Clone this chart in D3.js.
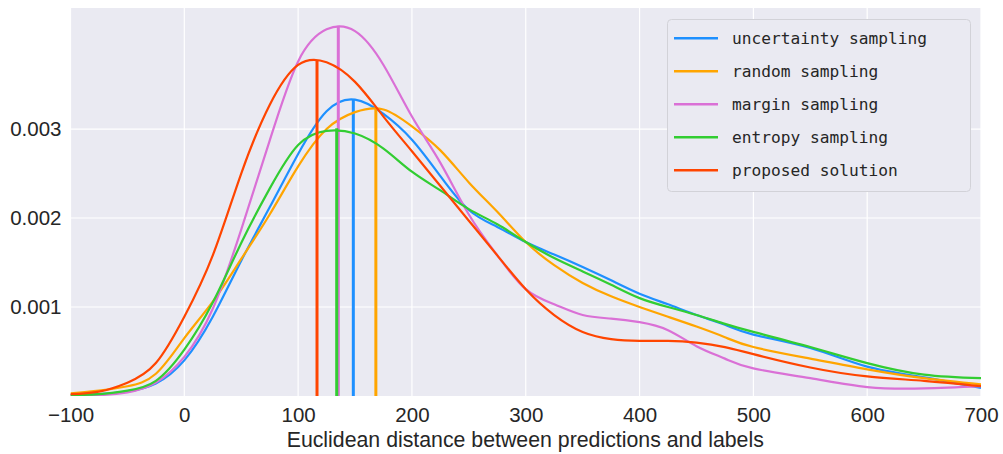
<!DOCTYPE html>
<html>
<head>
<meta charset="utf-8">
<script src="https://cdn.jsdelivr.net/npm/d3@7"></script>
<style>
  html, body { margin: 0; padding: 0; background: #ffffff; }
  svg { display: block; }
</style>
</head>
<body>
<div id="chart"></div>
<script>
// ---- data (densities in units of 1e-3) ----
const xGrid = [-100,-75,-50,-25,0,25,50,75,100,125,150,175,200,225,250,275,300,325,350,375,400,425,450,475,500,550,600,650,700];

const uncertaintySampling = [0.01,0.02,0.05,0.14,0.40,0.89,1.52,2.12,2.72,3.20,3.33,3.17,2.88,2.47,2.09,1.90,1.73,1.59,1.45,1.30,1.15,1.03,0.91,0.80,0.69,0.54,0.33,0.21,0.09];
const randomSampling      = [0.03,0.06,0.11,0.25,0.65,1.06,1.54,2.04,2.58,3.00,3.19,3.22,3.03,2.76,2.40,2.07,1.73,1.47,1.27,1.12,1.00,0.89,0.78,0.66,0.55,0.42,0.30,0.20,0.13];
const marginSampling      = [0.005,0.01,0.04,0.15,0.44,0.98,1.87,2.87,3.76,4.12,4.10,3.72,3.14,2.62,2.04,1.58,1.20,1.03,0.91,0.87,0.83,0.74,0.56,0.42,0.31,0.20,0.10,0.085,0.11];
const entropySampling     = [0.01,0.02,0.06,0.17,0.52,1.05,1.72,2.33,2.82,2.98,2.95,2.78,2.52,2.31,2.10,1.93,1.73,1.55,1.40,1.25,1.10,1.00,0.91,0.81,0.72,0.55,0.37,0.24,0.20];
const proposedSolution    = [0.02,0.05,0.15,0.37,0.89,1.58,2.50,3.27,3.72,3.75,3.53,3.14,2.75,2.36,1.97,1.58,1.20,0.91,0.72,0.64,0.62,0.62,0.60,0.55,0.47,0.32,0.22,0.17,0.11];

const seriesNames = ["uncertainty sampling","random sampling","margin sampling","entropy sampling","proposed solution"];
const seriesValues = [uncertaintySampling, randomSampling, marginSampling, entropySampling, proposedSolution];
const seriesColors = ["#1E90FF","#FFA500","#DA70D6","#32CD32","#FF4500"];

// modes (x) and peak densities (1e-3) marked by vertical lines
const modeX = [148.5, 168.3, 135.3, 133.9, 116.6];
const modeY = [3.33, 3.23, 4.16, 3.01, 3.77];

const xTicks = [-100,0,100,200,300,400,500,600,700];
const yTicks = [0.001,0.002,0.003];
const xLabel = "Euclidean distance between predictions and labels";

// ---- layout ----
const W = 1003, H = 454;
const pLeft = 70.5, pRight = 981, pTop = 8, pBottom = 396;

const svg = d3.select("#chart").append("svg").attr("width", W).attr("height", H);

const x = d3.scaleLinear().domain([-100, 700]).range([pLeft, pRight]);
const y = d3.scaleLinear().domain([0, 0.00436]).range([pBottom, pTop]);

svg.append("rect").attr("x", pLeft).attr("y", pTop)
  .attr("width", pRight - pLeft).attr("height", pBottom - pTop).attr("fill", "#EAEAF2");

svg.append("clipPath").attr("id", "clip").append("rect")
  .attr("x", pLeft).attr("y", pTop).attr("width", pRight - pLeft).attr("height", pBottom - pTop);

// gridlines
const grid = svg.append("g");
grid.selectAll("line.gx").data(xTicks).join("line").attr("class", "gx")
  .attr("x1", d => x(d)).attr("x2", d => x(d)).attr("y1", pTop).attr("y2", pBottom)
  .attr("stroke", "#ffffff").attr("stroke-width", 1.2);
grid.selectAll("line.gy").data(yTicks).join("line").attr("class", "gy")
  .attr("y1", d => y(d)).attr("y2", d => y(d)).attr("x1", pLeft).attr("x2", pRight)
  .attr("stroke", "#ffffff").attr("stroke-width", 1.2);

// axes (tick labels only)
const fontFamily = "'Liberation Sans', Arial, sans-serif";
const xAxis = svg.append("g").attr("transform", `translate(0,${pBottom})`)
  .call(d3.axisBottom(x).tickValues(xTicks).tickSize(0).tickPadding(10).tickFormat(d3.format("d")));
xAxis.select(".domain").remove();
xAxis.selectAll("text").attr("font-family", fontFamily).attr("font-size", 20.5).attr("fill", "#262626")
  .attr("dy", "0.71em").attr("y", 11);

const yAxis = svg.append("g").attr("transform", `translate(${pLeft},0)`)
  .call(d3.axisLeft(y).tickValues(yTicks).tickSize(0).tickPadding(9).tickFormat(d3.format(".3f")));
yAxis.select(".domain").remove();
yAxis.selectAll("text").attr("font-family", fontFamily).attr("font-size", 20.5).attr("fill", "#262626");

svg.append("text").attr("x", (pLeft + pRight) / 2 - 0.5).attr("y", 447)
  .attr("text-anchor", "middle").attr("font-family", fontFamily).attr("font-size", 21.3)
  .attr("fill", "#262626").text(xLabel);

// curves
const plot = svg.append("g").attr("clip-path", "url(#clip)");
const line = d3.line()
  .x(d => x(d[0])).y(d => y(d[1] / 1000))
  .curve(d3.curveNatural);

seriesValues.forEach((vals, i) => {
  const pts = xGrid.map((xv, j) => [xv, vals[j]]);
  plot.append("path").datum(pts).attr("d", line)
    .attr("fill", "none").attr("stroke", seriesColors[i]).attr("stroke-width", 2.2)
    .attr("stroke-linejoin", "round");
  plot.append("line")
    .attr("x1", x(modeX[i])).attr("x2", x(modeX[i]))
    .attr("y1", y(0)).attr("y2", y(modeY[i] / 1000))
    .attr("stroke", seriesColors[i]).attr("stroke-width", 3);
});

// legend
const lg = svg.append("g");
lg.append("rect").attr("x", 667.5).attr("y", 19.5).attr("width", 303).attr("height", 172)
  .attr("rx", 4).attr("fill", "#EAEAF2").attr("stroke", "#d2d2d8").attr("stroke-width", 1);
seriesNames.forEach((name, i) => {
  const cy = 38.3 + i * 33;
  lg.append("line").attr("x1", 674).attr("x2", 718).attr("y1", cy).attr("y2", cy)
    .attr("stroke", seriesColors[i]).attr("stroke-width", 2.6);
  lg.append("text").attr("x", 732).attr("y", cy + 6)
    .attr("font-family", "'DejaVu Sans Mono', monospace").attr("font-size", 16.2)
    .attr("fill", "#262626").text(name);
});
</script>
</body>
</html>
